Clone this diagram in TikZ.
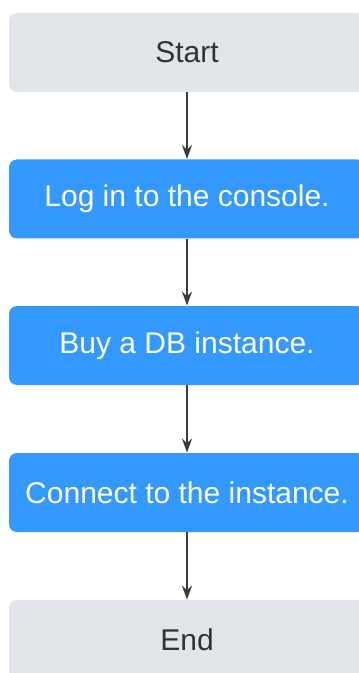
\documentclass[tikz,border=0pt]{standalone}
\usepackage{fontspec}
\setmainfont{Liberation Sans}
\usepackage{xcolor}
\usetikzlibrary{arrows.meta,positioning}
\definecolor{stepblue}{HTML}{3399FF}
\definecolor{endgray}{HTML}{E1E4E8}
\definecolor{textgray}{HTML}{333333}
\definecolor{arrowgray}{HTML}{3C3C3C}

\begin{document}
\begin{tikzpicture}[x=0.5pt,y=-0.5pt,
    box/.style={rounded corners=4pt, minimum width=178pt, minimum height=39.5pt,
        inner sep=0pt, font=\fontsize{15}{18}\selectfont},
    endbox/.style={box, fill=endgray, text=textgray},
    stepbox/.style={box, fill=stepblue, text=white},
    flow/.style={-{Stealth[length=7pt,width=5pt]}, line width=1pt, draw=arrowgray}]
    \useasboundingbox (0,0) rectangle (358,673);

    % Start and end
    \node[endbox] (start) at (187,52.5) {Start};
    \node[endbox] (end) at (187,639.5) {End};

    % Steps
    \node[stepbox] (login) at (187,199) {Log in to the console.};
    \node[stepbox] (buy) at (187,345.5) {Buy a DB instance.};
    \node[stepbox] (connect) at (187,492.5) {Connect to the instance.};

    % Arrows
    \draw[flow] (start) -- (login);
    \draw[flow] (login) -- (buy);
    \draw[flow] (buy) -- (connect);
    \draw[flow] (connect) -- (end);
\end{tikzpicture}
\end{document}
